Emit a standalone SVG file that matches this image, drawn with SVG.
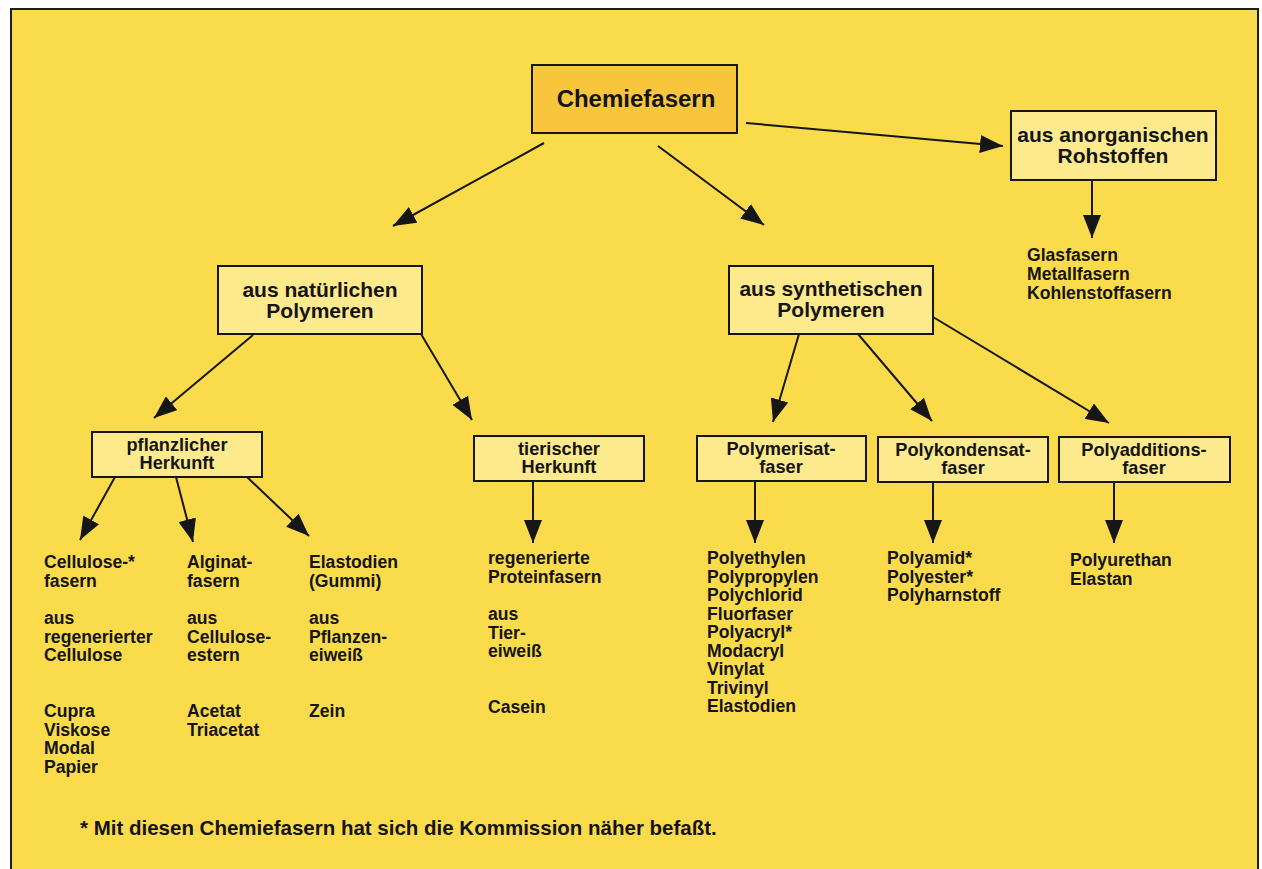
<svg xmlns="http://www.w3.org/2000/svg" width="1262" height="869" viewBox="0 0 1262 869">
  <style>
    .box { fill: #FCEA8C; stroke: #161616; stroke-width: 2; }
    .root { fill: #F8C63C; stroke: #161616; stroke-width: 2; }
    .t { font-family: "Liberation Sans", Arial, Helvetica, sans-serif; font-weight: bold; fill: #141414; }
    .h1 { font-size: 24px; text-anchor: middle; }
    .h2 { font-size: 21px; text-anchor: middle; }
    .h3 { font-size: 18.2px; text-anchor: middle; }
    .lst { font-size: 17.6px; }
    .note { font-size: 20.5px; }
    .con line { stroke: #161616; stroke-width: 2; marker-end: url(#arr); }
  </style>
  <defs>
    <marker id="arr" markerUnits="userSpaceOnUse" markerWidth="23" markerHeight="18" refX="23" refY="9" orient="auto">
      <path d="M0,0 L23,9 L0,18 z" fill="#161616"/>
    </marker>
  </defs>

  <!-- page and frame -->
  <rect x="0" y="0" width="1262" height="869" fill="#FFFFFF"/>
  <rect x="11" y="9" width="1247" height="860" fill="#FADB4B"/>
  <path d="M11,869 L11,9 L1258,9 L1258,869" fill="none" stroke="#1E1E1E" stroke-width="2"/>

  <!-- connectors -->
  <g id="connectors" class="con">
    <line x1="746" y1="123" x2="1003" y2="146"/>
    <line x1="544" y1="143" x2="393" y2="226"/>
    <line x1="658" y1="146" x2="764" y2="225"/>
    <line x1="1092" y1="180" x2="1092" y2="238"/>
    <line x1="253" y1="335" x2="154" y2="418"/>
    <line x1="421" y1="334" x2="472" y2="420"/>
    <line x1="799" y1="334" x2="773" y2="422"/>
    <line x1="858" y1="334" x2="932" y2="421"/>
    <line x1="933" y1="317" x2="1109" y2="423"/>
    <line x1="115" y1="477" x2="80" y2="540"/>
    <line x1="176" y1="477" x2="193" y2="542"/>
    <line x1="247" y1="477" x2="309" y2="536"/>
    <line x1="533" y1="481" x2="533" y2="543"/>
    <line x1="755" y1="481" x2="755" y2="543"/>
    <line x1="933" y1="482" x2="933" y2="543"/>
    <line x1="1114" y1="482" x2="1114" y2="543"/>
  </g>

  <!-- top node -->
  <g id="chemiefasern">
    <rect class="root" x="532" y="65" width="205" height="68"/>
    <text class="t h1" x="636" y="107">Chemiefasern</text>
  </g>

  <!-- second level -->
  <g id="anorganisch">
    <rect class="box" x="1011" y="111" width="205" height="69"/>
    <text class="t h2" x="1113" y="141.5">aus anorganischen</text>
    <text class="t h2" x="1113" y="162.5">Rohstoffen</text>
  </g>
  <g id="natuerlich">
    <rect class="box" x="218" y="266" width="204" height="68"/>
    <text class="t h2" x="320" y="296.5">aus natürlichen</text>
    <text class="t h2" x="320" y="317.5">Polymeren</text>
  </g>
  <g id="synthetisch">
    <rect class="box" x="729" y="266" width="204" height="68"/>
    <text class="t h2" x="831" y="296">aus synthetischen</text>
    <text class="t h2" x="831" y="317">Polymeren</text>
  </g>

  <!-- third level -->
  <g id="pflanzlich">
    <rect class="box" x="92" y="432" width="170" height="45"/>
    <text class="t h3" x="177" y="450.5">pflanzlicher</text>
    <text class="t h3" x="177" y="469">Herkunft</text>
  </g>
  <g id="tierisch">
    <rect class="box" x="474" y="436" width="170" height="45"/>
    <text class="t h3" x="559" y="454.5">tierischer</text>
    <text class="t h3" x="559" y="473">Herkunft</text>
  </g>
  <g id="polymerisat">
    <rect class="box" x="697" y="436" width="169" height="45"/>
    <text class="t h3" x="781" y="454.5">Polymerisat-</text>
    <text class="t h3" x="781" y="473">faser</text>
  </g>
  <g id="polykondensat">
    <rect class="box" x="878" y="437" width="170" height="45"/>
    <text class="t h3" x="963" y="455.5">Polykondensat-</text>
    <text class="t h3" x="963" y="474">faser</text>
  </g>
  <g id="polyaddition">
    <rect class="box" x="1059" y="437" width="171" height="45"/>
    <text class="t h3" x="1144" y="455.5">Polyadditions-</text>
    <text class="t h3" x="1144" y="474">faser</text>
  </g>

  <!-- leaf lists -->
  <g id="anorganisch-liste" class="t lst">
    <text x="1027" y="261">Glasfasern</text>
    <text x="1027" y="280">Metallfasern</text>
    <text x="1027" y="298.5">Kohlenstoffasern</text>
  </g>
  <g id="cellulose" class="t lst">
    <text x="44" y="568">Cellulose-*</text>
    <text x="44" y="586.5">fasern</text>
    <text x="44" y="624">aus</text>
    <text x="44" y="642.5">regenerierter</text>
    <text x="44" y="661">Cellulose</text>
    <text x="44" y="717">Cupra</text>
    <text x="44" y="735.5">Viskose</text>
    <text x="44" y="754">Modal</text>
    <text x="44" y="772.5">Papier</text>
  </g>
  <g id="alginat" class="t lst">
    <text x="187" y="568">Alginat-</text>
    <text x="187" y="586.5">fasern</text>
    <text x="187" y="624">aus</text>
    <text x="187" y="642.5">Cellulose-</text>
    <text x="187" y="661">estern</text>
    <text x="187" y="717">Acetat</text>
    <text x="187" y="735.5">Triacetat</text>
  </g>
  <g id="elastodien" class="t lst">
    <text x="309" y="568">Elastodien</text>
    <text x="309" y="586.5">(Gummi)</text>
    <text x="309" y="624">aus</text>
    <text x="309" y="642.5">Pflanzen-</text>
    <text x="309" y="661">eiweiß</text>
    <text x="309" y="717">Zein</text>
  </g>
  <g id="protein" class="t lst">
    <text x="488" y="564">regenerierte</text>
    <text x="488" y="582.5">Proteinfasern</text>
    <text x="488" y="620">aus</text>
    <text x="488" y="638.5">Tier-</text>
    <text x="488" y="657">eiweiß</text>
    <text x="488" y="713">Casein</text>
  </g>
  <g id="polymerisat-liste" class="t lst">
    <text x="707" y="564">Polyethylen</text>
    <text x="707" y="582.5">Polypropylen</text>
    <text x="707" y="601">Polychlorid</text>
    <text x="707" y="619.5">Fluorfaser</text>
    <text x="707" y="638">Polyacryl*</text>
    <text x="707" y="656.5">Modacryl</text>
    <text x="707" y="675">Vinylat</text>
    <text x="707" y="693.5">Trivinyl</text>
    <text x="707" y="712">Elastodien</text>
  </g>
  <g id="polykondensat-liste" class="t lst">
    <text x="887" y="564">Polyamid*</text>
    <text x="887" y="582.5">Polyester*</text>
    <text x="887" y="601">Polyharnstoff</text>
  </g>
  <g id="polyaddition-liste" class="t lst">
    <text x="1070" y="566">Polyurethan</text>
    <text x="1070" y="584.5">Elastan</text>
  </g>

  <!-- footnote -->
  <text class="t note" x="80" y="835">* Mit diesen Chemiefasern hat sich die Kommission näher befaßt.</text>
</svg>
